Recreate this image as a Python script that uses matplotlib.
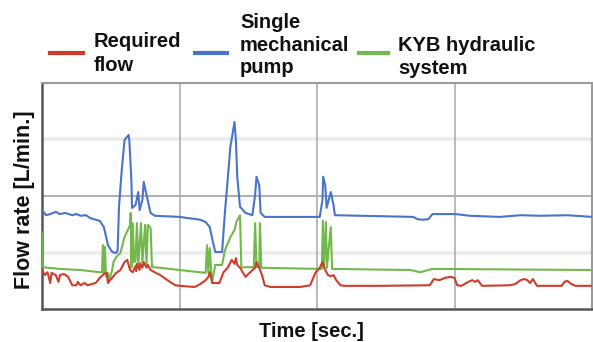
import matplotlib
matplotlib.use("Agg")
import matplotlib.pyplot as plt
from matplotlib.lines import Line2D

plt.rcParams['font.family'] = ['Liberation Sans', 'DejaVu Sans']

# Required flow
req_t = [0, 2, 4, 6, 7, 10, 12, 13, 16, 19, 22, 25, 26, 28, 31, 33, 39, 42, 45, 47,
         48, 49, 51, 54, 57, 60, 62, 63, 64, 66, 68, 68.5, 69, 71, 71.5, 73, 74, 76, 77, 79,
         82, 86, 89, 93, 97, 100, 111, 115, 119, 121, 122, 124, 129, 132, 135, 138, 140, 141, 142, 144,
         146, 148, 151, 155, 156, 158, 160, 162, 166, 188, 195, 199, 202, 204, 206, 208, 210, 212, 214, 217,
         220, 246, 282, 285, 289, 293, 297, 300, 302, 305, 310, 313, 315, 317, 320, 340, 344, 348, 351, 353,
         355, 357, 360, 378, 380, 382, 385, 388, 400]
req_v = [69, 60, 65, 46, 64, 60, 48, 60, 62, 57, 42, 42, 48, 42, 46, 42, 46, 55, 62, 64,
         46, 50, 55, 64, 69, 83, 87, 78, 69, 65, 76, 67, 80, 69, 81, 73, 83, 73, 78, 69,
         65, 60, 55, 48, 42, 41, 39, 44, 51, 57, 65, 46, 46, 65, 73, 87, 80, 90, 78, 73,
         65, 57, 64, 73, 83, 73, 60, 42, 39, 39, 42, 65, 73, 83, 69, 60, 58, 60, 51, 42,
         41, 41, 42, 53, 51, 55, 57, 55, 42, 41, 48, 51, 48, 51, 41, 42, 44, 51, 53, 51,
         46, 53, 41, 41, 48, 50, 44, 41, 41]

# Single mechanical pump
mech_t = [0, 3, 6, 10, 13, 17, 22, 25, 28, 32, 35, 39, 42, 45, 48, 51, 54, 55, 56, 58,
          60, 63, 63.5, 65, 65.5, 68, 70, 71, 73, 74, 76, 79, 82, 100, 115, 119, 122, 124, 126, 131,
          133, 137, 140, 141, 142, 144, 148, 153, 155, 156, 158, 159, 162, 202, 204, 204.5, 206, 207, 210, 212,
          213, 270, 273, 277, 281, 284, 301, 311, 333, 348, 362, 382, 400]
mech_v = [175, 166, 168, 172, 168, 170, 166, 168, 165, 166, 161, 158, 156, 145, 113, 101, 99, 104, 181, 246,
          299, 308, 299, 228, 179, 184, 207, 175, 193, 225, 202, 170, 165, 163, 158, 154, 145, 122, 101, 101,
          170, 287, 331, 299, 234, 181, 170, 166, 202, 234, 219, 170, 163, 163, 193, 234, 219, 179, 207, 184,
          166, 163, 159, 158, 159, 168, 168, 165, 163, 166, 165, 166, 163]

# KYB hydraulic system
kyb_t = [0, 0.4, 13, 28, 42, 43.6, 44.3, 45, 45.8, 46.5, 48, 49, 51, 52, 54, 57, 60, 63, 64, 64.5,
         65, 66, 67, 68, 69, 70, 72, 73, 75, 76, 77, 79, 80, 86, 100, 115, 119, 120, 121, 122,
         123.6, 126, 131, 133, 137, 140, 141.5, 144, 145, 148, 154, 155, 156, 158, 158.5, 159.5, 202, 203.5, 204.3, 205,
         206.5, 207.2, 210, 211, 268, 275, 284, 400]
kyb_v = [136, 74, 71, 69, 65, 65, 113, 65, 110, 58, 64, 51, 69, 83, 92, 99, 127, 143, 149, 170,
         73, 152, 83, 85, 152, 78, 152, 83, 149, 78, 149, 143, 74, 73, 69, 65, 64, 113, 64, 108,
         46, 78, 78, 104, 127, 140, 155, 166, 73, 74, 74, 152, 74, 74, 152, 73, 71, 71, 156, 73,
         154, 73, 145, 71, 69, 65, 71, 69]

labels = [["Required", "flow"], ["Single", "mechanical", "pump"], ["KYB hydraulic", "system"]]
colors = ['#cc3d2c', '#4a74c9', '#72b84a']

W, H = 593, 342
fig = plt.figure(figsize=(W / 100, H / 100), dpi=100)
ax = fig.add_axes([42 / W, 1 - 309 / H, 550 / W, 226 / H])

ax.plot(mech_t, mech_v, color=colors[1], lw=1.5, zorder=3)
ax.plot(kyb_t, kyb_v, color=colors[2], lw=1.5, zorder=4)
ax.plot(req_t, req_v, color=colors[0], lw=1.5, zorder=5)

ax.set_xlim(0, 400)
ax.set_ylim(0, 400)
ax.set_xticks([100, 200, 300])
ax.set_yticks([100, 200, 300])
ax.tick_params(length=0, labelbottom=False, labelleft=False)
ax.grid(axis='x', color='#b4b4b4', lw=1.3, zorder=1)
for yv, c, w in [(100, '#ececec', 2.6), (200, '#a8a8a8', 1.3), (300, '#ececec', 2.6)]:
    ax.axhline(yv, color=c, lw=w, zorder=1)

for side in ['left', 'bottom']:
    ax.spines[side].set_color('#555555')
    ax.spines[side].set_linewidth(1.8)
for side in ['top', 'right']:
    ax.spines[side].set_color('#9a9a9a')
    ax.spines[side].set_linewidth(1.5)

ax.set_xlabel("Time [sec.]", fontsize=14.5, fontweight='bold', color='#111111')
ax.set_ylabel("Flow rate [L/min.]", fontsize=15.5, fontweight='bold', color='#111111')
ax.xaxis.set_label_coords(0.489, -0.056)
ax.yaxis.set_label_coords(-0.012, 0.485)

# legend drawn in figure space
handles = [(50, 83, 52.7), (195, 227, 53), (359, 388, 53)]
text_x = [94, 240, 398]
baselines = [[46.7, 70.7], [28, 50.7, 73], [50.7, 74]]
for (x0, x1, yh), tx, lines, bl, c in zip(handles, text_x, labels, baselines, colors):
    fig.add_artist(Line2D([x0 / W, x1 / W], [1 - yh / H, 1 - yh / H], color=c, lw=3))
    for line, b in zip(lines, bl):
        fig.text(tx / W, 1 - b / H, line, fontsize=14.5, fontweight='bold', color='#111111',
                 va='baseline', ha='left')

fig.savefig("out.png", dpi=100)
